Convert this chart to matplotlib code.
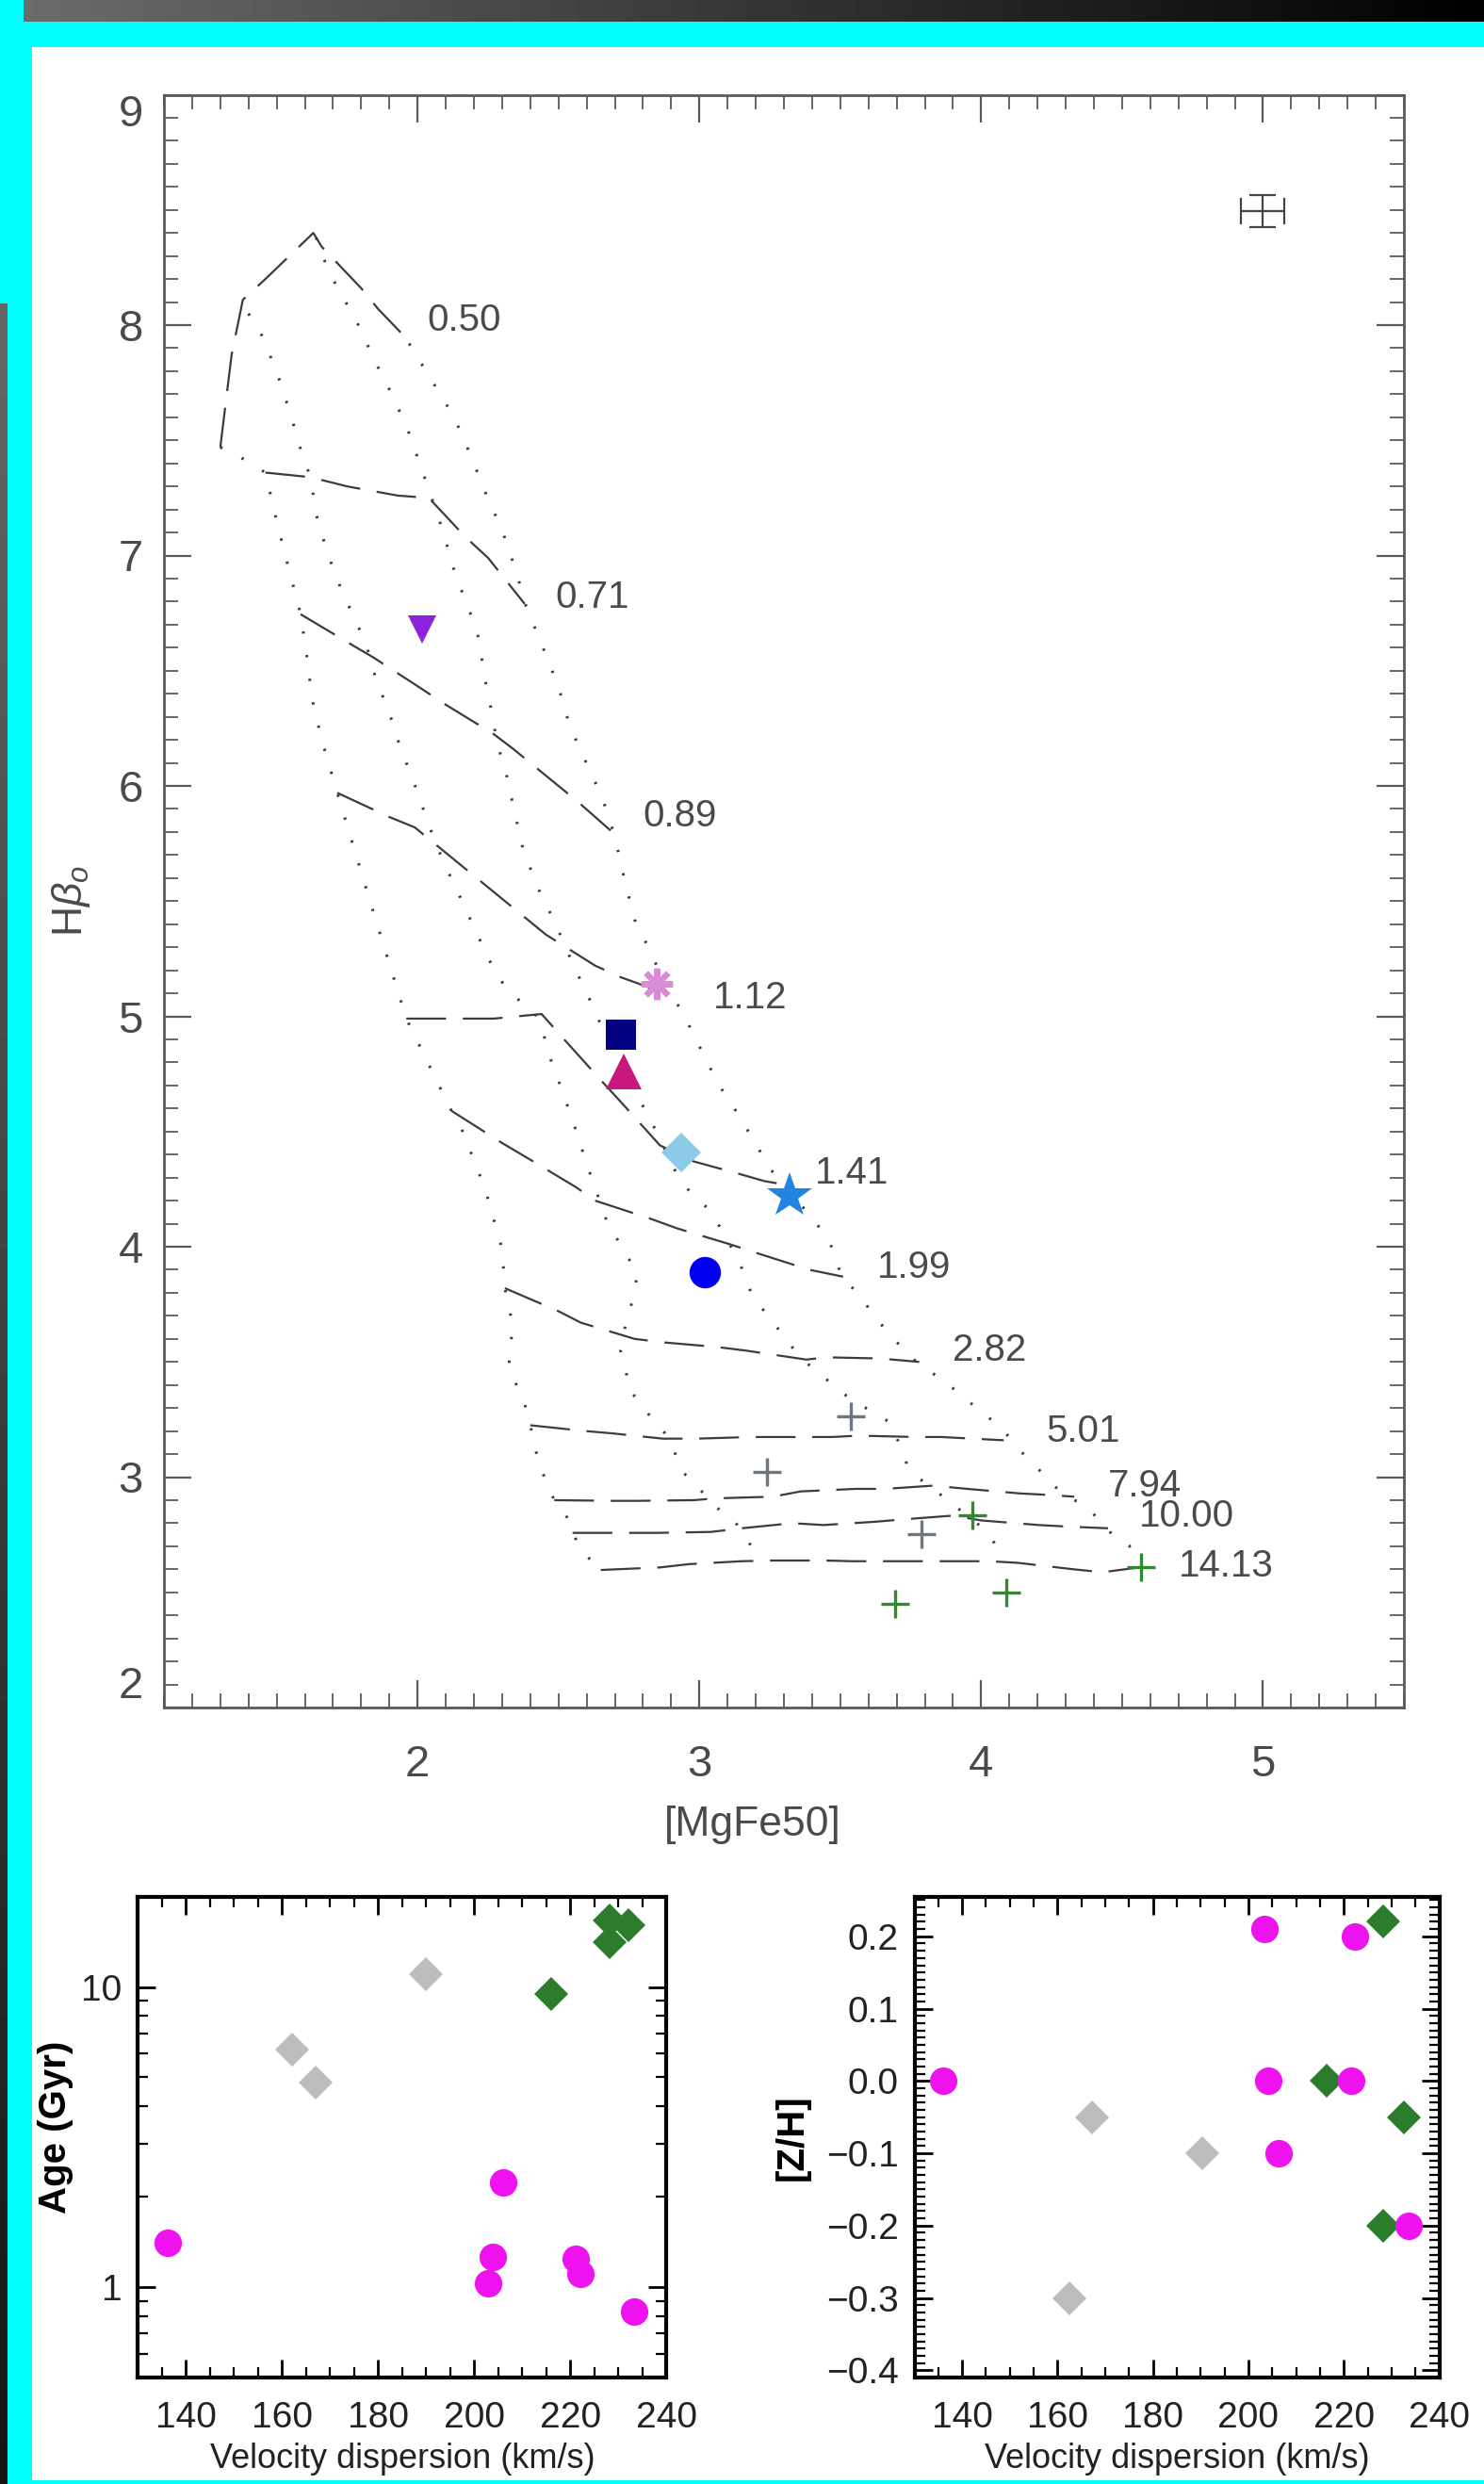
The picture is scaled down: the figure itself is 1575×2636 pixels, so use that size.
import numpy as np
import matplotlib.pyplot as plt
from matplotlib.patches import Rectangle
from matplotlib.ticker import MultipleLocator, FixedLocator, LogLocator, NullFormatter

plt.rcParams['font.family'] = ['Liberation Sans', 'DejaVu Sans']
plt.rcParams['mathtext.fontset'] = 'custom'
plt.rcParams['mathtext.rm'] = 'Liberation Sans'
plt.rcParams['mathtext.it'] = 'Liberation Sans:italic'

# ---- model grid, lines of constant age (dashed) ----
age050_x = [1.30, 1.34, 1.38, 1.46, 1.63, 1.66, 1.80, 1.86, 1.97]
age050_y = [7.47, 7.87, 8.11, 8.20, 8.40, 8.34, 8.16, 8.07, 7.93]
age071_x = [1.46, 1.62, 1.75, 1.93, 2.04, 2.17, 2.25, 2.38]
age071_y = [7.36, 7.34, 7.30, 7.26, 7.25, 7.08, 6.99, 6.79]
age089_x = [1.585, 1.77, 1.84, 2.01, 2.09, 2.27, 2.34, 2.50, 2.57, 2.70]
age089_y = [6.745, 6.61, 6.56, 6.425, 6.36, 6.225, 6.16, 6.00, 5.93, 5.79]
age112_x = [1.715, 1.90, 1.99, 2.15, 2.23, 2.38, 2.455, 2.63, 2.72, 2.88]
age112_y = [5.97, 5.865, 5.82, 5.66, 5.58, 5.43, 5.355, 5.22, 5.17, 5.10]
age141_x = [1.96, 2.17, 2.27, 2.44, 2.52, 2.66, 2.72, 2.86, 2.98, 3.13, 3.23, 3.30]
age141_y = [4.99, 4.99, 4.99, 5.01, 4.90, 4.71, 4.63, 4.44, 4.37, 4.32, 4.285, 4.27]
age199_x = [2.12, 2.30, 2.39, 2.56, 2.63, 2.83, 2.92, 3.11, 3.21, 3.39, 3.51]
age199_y = [4.59, 4.45, 4.385, 4.26, 4.20, 4.12, 4.08, 4.01, 3.97, 3.90, 3.87]
age282_x = [2.31, 2.50, 2.58, 2.77, 2.87, 3.06, 3.16, 3.38, 3.45, 3.64, 3.78]
age282_y = [3.82, 3.72, 3.67, 3.60, 3.585, 3.565, 3.55, 3.51, 3.52, 3.515, 3.50]
age501_x = [2.40, 2.595, 2.69, 2.87, 2.99, 3.18, 3.28, 3.47, 3.565, 3.77, 3.86, 4.08]
age501_y = [3.225, 3.20, 3.19, 3.167, 3.167, 3.174, 3.174, 3.174, 3.18, 3.174, 3.174, 3.16]
age794_x = [2.485, 2.69, 2.78, 2.98, 3.06, 3.26, 3.36, 3.555, 3.66, 3.83, 3.95, 4.14, 4.25, 4.33]
age794_y = [2.90, 2.897, 2.897, 2.90, 2.908, 2.915, 2.938, 2.949, 2.949, 2.963, 2.949, 2.929, 2.922, 2.915]
age1000_x = [2.55, 2.74, 2.85, 3.04, 3.15, 3.33, 3.44, 3.62, 3.76, 3.90, 4.00, 4.205, 4.31, 4.45]
age1000_y = [2.758, 2.758, 2.758, 2.762, 2.778, 2.80, 2.792, 2.806, 2.82, 2.833, 2.812, 2.792, 2.785, 2.778]
age1413_x = [2.65, 2.86, 2.96, 3.15, 3.26, 3.45, 3.54, 3.75, 3.83, 4.03, 4.13, 4.32, 4.43, 4.56]
age1413_y = [2.597, 2.608, 2.622, 2.635, 2.638, 2.638, 2.635, 2.635, 2.635, 2.635, 2.628, 2.601, 2.587, 2.608]

age_names = ['0.50', '0.71', '0.89', '1.12', '1.41', '1.99', '2.82', '5.01', '7.94', '10.00', '14.13']
age_name_x = [2.035, 2.49, 2.80, 3.05, 3.41, 3.63, 3.90, 4.23, 4.45, 4.56, 4.70]
age_name_y = [8.02, 6.82, 5.87, 5.08, 4.32, 3.91, 3.55, 3.20, 2.96, 2.83, 2.615]

# ---- model grid, lines of constant metallicity (dotted) ----
metB_x = [1.30, 1.36, 1.42, 1.46, 1.50, 1.535, 1.585, 1.61, 1.625, 1.66, 1.715, 1.83, 1.96, 2.12,
          2.16, 2.24, 2.30, 2.31, 2.34, 2.325, 2.325, 2.38, 2.40, 2.43, 2.485, 2.53, 2.55, 2.585, 2.65]
metB_y = [7.47, 7.435, 7.39, 7.36, 7.15, 6.98, 6.745, 6.54, 6.38, 6.20, 5.97, 5.505, 4.99, 4.59,
          4.50, 4.25, 3.99, 3.82, 3.645, 3.556, 3.474, 3.317, 3.225, 3.058, 2.90, 2.826, 2.758, 2.676, 2.597]
metA_x = [1.40, 1.45, 1.505, 1.55, 1.59, 1.62, 1.64, 1.68, 1.73, 1.79, 1.82, 1.86, 1.89, 1.93, 1.96,
          2.01, 2.03, 2.09, 2.15, 2.21, 2.27, 2.31, 2.36, 2.41, 2.44, 2.46, 2.48, 2.51, 2.555, 2.60,
          2.67, 2.74, 2.78, 2.77, 2.735, 2.72, 2.74, 2.745, 2.79, 2.83, 2.875, 2.91, 2.93, 2.98, 3.03,
          3.075, 3.13, 3.17, 3.21]
metA_y = [8.05, 7.95, 7.78, 7.61, 7.44, 7.34, 7.18, 7.01, 6.85, 6.69, 6.605, 6.43, 6.355, 6.20, 6.10,
          5.94, 5.86, 5.675, 5.52, 5.36, 5.205, 5.13, 5.07, 5.03, 4.95, 4.87, 4.78, 4.69, 4.53, 4.36,
          4.115, 3.965, 3.89, 3.80, 3.645, 3.55, 3.47, 3.386, 3.324, 3.256, 3.195, 3.12, 3.034, 2.977, 2.908,
          2.853, 2.80, 2.73, 2.64]
metC_x = [1.64, 1.685, 1.72, 1.79, 1.85, 1.915, 1.97, 2.02, 2.09, 2.13, 2.18, 2.21, 2.245, 2.26,
          2.285, 2.31, 2.34, 2.375, 2.43, 2.49, 2.55, 2.61, 2.64, 2.72, 2.80, 2.835, 2.93, 2.98, 3.04,
          3.14, 3.19, 3.24, 3.33, 3.37, 3.42, 3.47, 3.53, 3.68, 3.715, 3.74, 3.77, 3.83, 3.90, 4.00,
          4.045, 4.08]
metC_y = [8.38, 8.23, 8.155, 8.00, 7.84, 7.685, 7.53, 7.356, 7.106, 6.934, 6.77, 6.683, 6.425, 6.34,
          6.17, 6.08, 5.91, 5.72, 5.55, 5.40, 5.23, 5.075, 4.99, 4.80, 4.61, 4.53, 4.29, 4.22, 4.156,
          3.94, 3.78, 3.706, 3.563, 3.508, 3.453, 3.406, 3.344, 3.235, 3.126, 3.044, 3.003, 2.949, 2.881, 2.785,
          2.717, 2.64]
metD_x = [1.97, 2.06, 2.13, 2.19, 2.245, 2.30, 2.35, 2.385, 2.445, 2.50, 2.54, 2.595, 2.655, 2.70,
          2.735, 2.77, 2.835, 2.88, 2.935, 3.00, 3.065, 3.14, 3.215, 3.25, 3.30, 3.39, 3.46, 3.505,
          3.56, 3.64, 3.69, 3.75, 3.84, 3.90, 3.96, 4.07, 4.15, 4.25, 4.29, 4.365, 4.42, 4.47, 4.525, 4.56]
metD_y = [7.92, 7.74, 7.60, 7.43, 7.26, 7.11, 6.93, 6.78, 6.60, 6.43, 6.26, 6.11, 5.95, 5.78,
          5.59, 5.42, 5.26, 5.12, 5.03, 4.87, 4.71, 4.57, 4.415, 4.34, 4.265, 4.14, 4.03, 3.87,
          3.80, 3.67, 3.60, 3.52, 3.44, 3.385, 3.324, 3.215, 3.10, 2.976, 2.922, 2.881, 2.813, 2.744, 2.703, 2.608]

# ---- galaxies on the index-index plot ----
mgfe_vtri, hb_vtri = 2.017, 6.68
mgfe_ast, hb_ast = 2.85, 5.14
mgfe_sq, hb_sq = 2.723, 4.92
mgfe_tri, hb_tri = 2.733, 4.76
mgfe_dia, hb_dia = 2.936, 4.41
mgfe_star, hb_star = 3.32, 4.22
mgfe_circ, hb_circ = 3.02, 3.89
mgfe_gray = [3.538, 3.239, 3.789]
hb_gray = [3.262, 3.024, 2.751]
mgfe_green = [3.970, 3.693, 4.088, 4.567]
hb_green = [2.833, 2.451, 2.499, 2.608]
err_x, err_y, err_dx, err_dy = 5.0, 8.495, 0.077, 0.07

# ---- bottom panels ----
sig_age_mag = [136.2, 206.0, 203.9, 202.9, 221.1, 222.1, 233.3]
age_mag = [1.41, 2.24, 1.26, 1.03, 1.24, 1.11, 0.83]
sig_age_gray = [190.0, 162.0, 167.0]
age_gray = [11.0, 6.2, 4.8]
sig_age_green = [216.0, 228.2, 228.2, 232.1]
age_green = [9.5, 14.1, 16.6, 16.1]

sig_z_mag = [136.1, 203.4, 204.2, 206.3, 222.4, 221.5, 233.5]
z_mag = [0.0, 0.21, 0.0, -0.10, 0.20, 0.0, -0.20]
sig_z_gray = [167.3, 190.4, 162.4]
z_gray = [-0.05, -0.10, -0.30]
sig_z_green = [228.3, 216.4, 232.5, 228.3]
z_green = [0.22, 0.0, -0.05, -0.20]

W, H = 1575, 2636
fig = plt.figure(figsize=(W / 100, H / 100), dpi=100)
fig.patch.set_facecolor('white')

# screen-capture frame around the figure
bg = fig.add_axes([0, 0, 1, 1])
bg.set_zorder(-5)
bg.axis('off')
cyan = '#00FFFF'
bg.imshow(np.linspace(0.42, 0.0, 256)[None, :], cmap='gray', vmin=0, vmax=1,
          extent=(25, W, 23, 0), aspect='auto', zorder=2)
bg.imshow(np.linspace(0.40, 0.08, 256)[:, None], cmap='gray', vmin=0, vmax=1,
          extent=(0, 8, H, 322), aspect='auto', zorder=2)
bg.add_patch(Rectangle((0, 0), W, 50, color=cyan, lw=0, zorder=1))
bg.add_patch(Rectangle((0, 0), 34, H, color=cyan, lw=0, zorder=1))
bg.add_patch(Rectangle((0, 2632), W, 4, color=cyan, lw=0, zorder=1))
bg.set_xlim(0, W)
bg.set_ylim(H, 0)

# ---- main index-index plot ----
ax = fig.add_axes([174 / W, 1 - 1812 / H, 1316 / W, 1711.5 / H])
gcol = '#3c3c3c'
age_lines = [(age050_x, age050_y), (age071_x, age071_y), (age089_x, age089_y),
             (age112_x, age112_y), (age141_x, age141_y), (age199_x, age199_y),
             (age282_x, age282_y), (age501_x, age501_y), (age794_x, age794_y),
             (age1000_x, age1000_y), (age1413_x, age1413_y)]
for xs, ys in age_lines:
    ax.plot(xs, ys, color=gcol, lw=1.6, ls=(0, (19, 8)))
for xs, ys in [(metB_x, metB_y), (metA_x, metA_y), (metC_x, metC_y), (metD_x, metD_y)]:
    ax.plot(xs, ys, color=gcol, lw=2.2, ls=(0, (0.8, 7.5)))
for name, tx, ty in zip(age_names, age_name_x, age_name_y):
    ax.text(tx, ty, name, fontsize=29, color='#4a4a4a', ha='left', va='center')

ax.plot(mgfe_vtri, hb_vtri, 'v', color='#8E24DA', ms=22, mew=0, zorder=5)
ax.plot(mgfe_ast, hb_ast, marker=(8, 2, 0), color='#D98BD6', ms=24, mew=4.5, zorder=5)
ax.plot(mgfe_tri, hb_tri, '^', color='#C8187F', ms=28, mew=0, zorder=5)
ax.plot(mgfe_sq, hb_sq, 's', color='#000080', ms=23, mew=0, zorder=6)
ax.plot(mgfe_dia, hb_dia, 'D', color='#8CCBE8', ms=21, mew=0, zorder=5)
ax.plot(mgfe_star, hb_star, '*', color='#2383E2', ms=36, mew=0, zorder=5)
ax.plot(mgfe_circ, hb_circ, 'o', color='#0000F0', ms=24, mew=0, zorder=5)
ax.plot(mgfe_gray, hb_gray, '+', color='#6E7480', ms=22, mew=2.4, zorder=5)
ax.plot(mgfe_green, hb_green, '+', color='#2F8A2F', ms=22, mew=2.4, zorder=5)
ax.errorbar(err_x, err_y, xerr=err_dx, yerr=err_dy, fmt='none', ecolor='#444444',
            elinewidth=1.6, capsize=10, capthick=1.6)

ax.set_xlim(1.1, 5.5)
ax.set_ylim(2, 9)
ax.xaxis.set_major_locator(FixedLocator([2, 3, 4, 5]))
ax.xaxis.set_minor_locator(MultipleLocator(0.1))
ax.yaxis.set_major_locator(FixedLocator([2, 3, 4, 5, 6, 7, 8, 9]))
ax.yaxis.set_minor_locator(MultipleLocator(0.1))
ax.tick_params(which='both', direction='in', top=True, right=True, color='#5a5a5a',
               labelcolor='#4a4a4a', labelsize=34)
ax.tick_params(which='major', length=21, width=1.6)
ax.tick_params(which='minor', length=11, width=1.3)
ax.tick_params(axis='x', pad=28)
ax.tick_params(axis='y', pad=16)
for s in ax.spines.values():
    s.set_color('#5a5a5a')
    s.set_linewidth(2)
ylabs = ax.get_yticklabels()
ylabs[0].set_va('bottom')
ylabs[-1].set_va('top')
ax.set_xlabel('[MgFe50]', fontsize=32, color='#4a4a4a', va='center')
ax.xaxis.set_label_coords(0.475, -0.073)
ax.set_ylabel(r'H$\beta_o$', fontsize=32, color='#4a4a4a', va='center')
ax.yaxis.set_label_coords(-0.0745, 0.5)

# ---- bottom left: age vs velocity dispersion ----
ax2 = fig.add_axes([146.4 / W, 1 - 2523 / H, 561 / W, 510.4 / H])
ax2.plot(sig_age_gray, age_gray, 'D', color='#BDBDBD', ms=18, mew=0)
ax2.plot(sig_age_green, age_green, 'D', color='#2B7D2B', ms=18, mew=0)
ax2.plot(sig_age_mag, age_mag, 'o', color='#EE12EE', ms=21, mew=0)
ax2.set_yscale('log')
ax2.set_xlim(130, 240)
ax2.set_ylim(0.5, 20)
ax2.yaxis.set_major_locator(FixedLocator([1, 10]))
ax2.yaxis.set_major_formatter(plt.FixedFormatter(['1', '10']))
ax2.yaxis.set_minor_locator(LogLocator(base=10, subs=np.arange(2, 10)))
ax2.yaxis.set_minor_formatter(NullFormatter())
ax2.set_ylabel('Age (Gyr)', fontsize=29, fontweight='bold', va='center')
ax2.yaxis.set_label_coords(-0.155, 0.52)

# ---- bottom right: [Z/H] vs velocity dispersion ----
ax3 = fig.add_axes([970.5 / W, 1 - 2523 / H, 557 / W, 510.4 / H])
ax3.plot(sig_z_gray, z_gray, 'D', color='#BDBDBD', ms=18, mew=0)
ax3.plot(sig_z_green, z_green, 'D', color='#2B7D2B', ms=18, mew=0)
ax3.plot(sig_z_mag, z_mag, 'o', color='#EE12EE', ms=21, mew=0)
ax3.set_xlim(130, 240)
ax3.set_ylim(-0.41, 0.255)
ax3.yaxis.set_major_locator(MultipleLocator(0.1))
ax3.yaxis.set_minor_locator(MultipleLocator(0.01))
ax3.yaxis.set_major_formatter(plt.FuncFormatter(lambda v, p: ('%.1f' % v).replace('-', '\u2212')))
ax3.set_ylabel('[Z/H]', fontsize=29, fontweight='bold', va='center')
ax3.yaxis.set_label_coords(-0.233, 0.5)

for a in (ax2, ax3):
    a.xaxis.set_major_locator(MultipleLocator(20))
    a.xaxis.set_minor_locator(MultipleLocator(5))
    a.tick_params(which='both', direction='in', top=True, right=True, color='black',
                  labelsize=28, labelcolor='#222222')
    a.tick_params(which='major', length=14, width=2)
    a.tick_params(which='minor', length=8, width=1.6)
    a.tick_params(axis='x', pad=18)
    a.tick_params(axis='y', pad=12)
    for s in a.spines.values():
        s.set_linewidth(3)
    a.set_xlabel('Velocity dispersion (km/s)', fontsize=26, color='#222222', labelpad=6)

fig.savefig('out.png', dpi=100, facecolor='white')
